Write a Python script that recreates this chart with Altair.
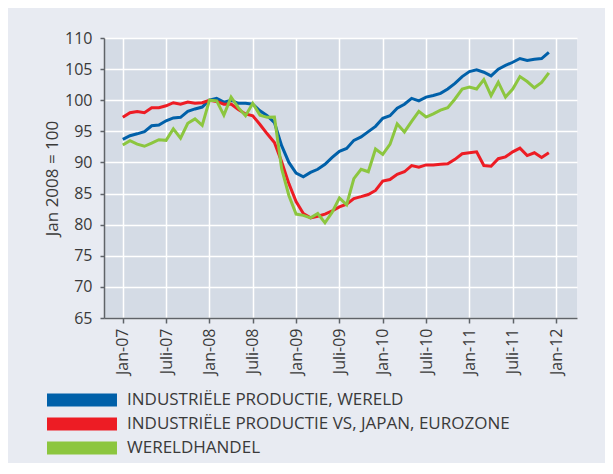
import altair as alt
import pandas as pd

# month index 0 = Jan-07 ... 59 = Dec-11
tick_values = [0, 6, 12, 18, 24, 30, 36, 42, 48, 54, 60]
tick_labels = ["Jan-07", "Juli-07", "Jan-08", "Juli-08", "Jan-09", "Juli-09",
               "Jan-10", "Juli-10", "Jan-11", "Juli-11", "Jan-12"]

series_names = [
    "INDUSTRIËLE PRODUCTIE, WERELD",
    "INDUSTRIËLE PRODUCTIE VS, JAPAN, EUROZONE",
    "WERELDHANDEL",
]
series_colors = ["#0060a9", "#ed1c24", "#8cc63f"]

wereld = [93.7, 94.3, 94.6, 94.95, 95.9, 96.0, 96.7, 97.15, 97.25, 98.2, 98.6, 98.9,
          100.0, 100.3, 99.7, 100.0, 99.5, 99.5, 99.35, 98.3, 97.5, 96.4, 92.7, 90.0,
          88.3, 87.7, 88.4, 88.9, 89.7, 90.8, 91.8, 92.25, 93.55, 94.1, 94.95, 95.8,
          97.1, 97.5, 98.7, 99.35, 100.3, 99.9, 100.5, 100.75, 101.1, 101.8, 102.7, 103.8,
          104.6, 104.9, 104.5, 103.9, 105.0, 105.6, 106.1, 106.7, 106.4, 106.6, 106.7, 107.7]

vs_japan_ez = [97.26, 98.0, 98.2, 98.0, 98.8, 98.8, 99.1, 99.6, 99.35, 99.7, 99.5, 99.6,
               100.0, 99.8, 99.35, 99.4, 98.5, 97.8, 97.5, 96.1, 94.6, 93.2, 90.1, 86.6,
               83.7, 81.8, 81.1, 81.35, 81.7, 82.2, 82.85, 83.3, 84.2, 84.5, 84.85, 85.5,
               87.0, 87.25, 88.1, 88.5, 89.5, 89.25, 89.6, 89.6, 89.7, 89.8, 90.5, 91.4,
               91.55, 91.7, 89.5, 89.4, 90.6, 90.9, 91.7, 92.3, 91.1, 91.55, 90.8, 91.55]

wereldhandel = [92.8, 93.5, 92.95, 92.6, 93.1, 93.65, 93.55, 95.4, 93.9, 96.3, 97.0, 95.97,
                100.0, 99.9, 97.6, 100.5, 98.8, 97.5, 99.5, 97.6, 97.25, 97.3, 89.0, 84.7,
                81.7, 81.5, 81.1, 81.8, 80.3, 82.0, 84.3, 83.2, 87.4, 88.9, 88.5, 92.15,
                91.3, 92.9, 96.2, 94.9, 96.6, 98.2, 97.3, 97.8, 98.4, 98.8, 100.2, 101.8,
                102.1, 101.8, 103.3, 100.75, 102.9, 100.5, 101.8, 103.8, 103.0, 102.0, 102.85, 104.4]

rows = []
for name, vals in zip(series_names, [wereld, vs_japan_ez, wereldhandel]):
    for i, v in enumerate(vals):
        rows.append({"m": i, "waarde": v, "reeks": name})
df = pd.DataFrame(rows)

label_array = "[" + ",".join("'" + t + "'" for t in tick_labels) + "]"

FONT = "Open Sans"
TXT = "#3a3a3a"
AX = "#5f6368"

chart = alt.Chart(df).mark_line(strokeWidth=3).encode(
    x=alt.X("m:Q",
            scale=alt.Scale(domain=[-2.6, 62.9], nice=False, zero=False),
            axis=alt.Axis(values=tick_values, labelExpr=label_array + "[round(datum.value/6)]",
                          labelAngle=-90, title=None, grid=True, gridColor="white",
                          gridWidth=1.5, domainColor=AX, domainWidth=1.5, tickColor=AX,
                          tickWidth=1.5, tickSize=5, labelPadding=5, labelFontSize=16,
                          labelFont=FONT, labelColor=TXT)),
    y=alt.Y("waarde:Q",
            scale=alt.Scale(domain=[65, 110], nice=False, zero=False),
            axis=alt.Axis(values=list(range(65, 111, 5)), title="Jan 2008 = 100",
                          titleFont=FONT, titleFontSize=17, titleFontWeight="normal",
                          titleColor=TXT, titlePadding=3, grid=True, gridColor="white",
                          gridWidth=1.5, domainColor=AX, domainWidth=1.5, tickColor=AX,
                          tickWidth=1.5, tickSize=4, labelPadding=8, labelFontSize=16,
                          labelFont=FONT, labelColor=TXT)),
    color=alt.Color("reeks:N",
                    scale=alt.Scale(domain=series_names, range=series_colors),
                    sort=series_names,
                    legend=alt.Legend(title=None, orient="none", legendX=-57, legendY=353,
                                      direction="vertical",
                                      symbolType="M-1.93,0H8.07", symbolSize=196,
                                      symbolStrokeWidth=13, symbolOpacity=1,
                                      labelFont=FONT, labelFontSize=17, labelColor=TXT,
                                      labelOffset=53, clipHeight=18, rowPadding=6,
                                      labelLimit=0)),
).properties(
    width=473, height=280,
    background="#e8ebf2",
    padding={"left": 96, "top": 30, "right": 28, "bottom": 145},
    autosize=alt.AutoSizeParams(type="none"),
).configure_view(fill="#d4dbe5", stroke=None)

chart.save("out.html", embed_options={"renderer": "svg", "actions": False})
